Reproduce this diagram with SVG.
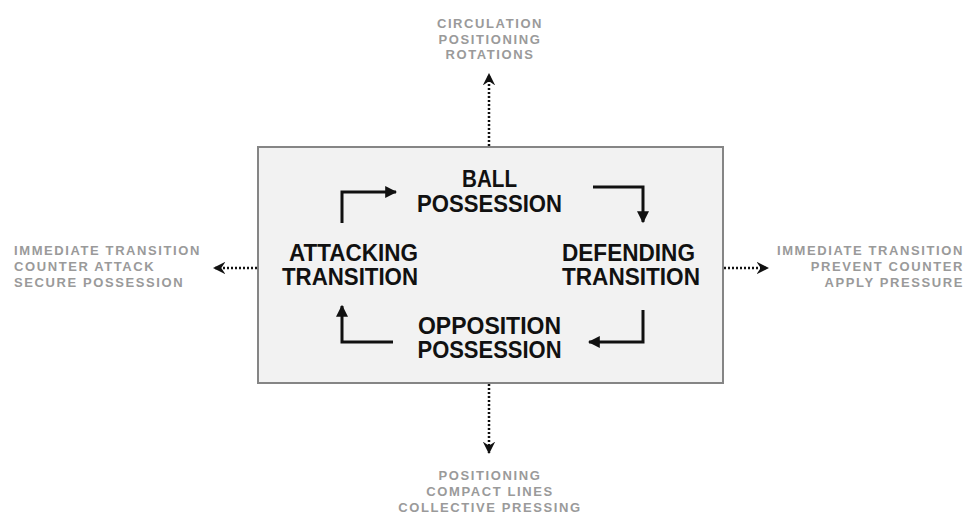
<svg xmlns="http://www.w3.org/2000/svg" width="970" height="516" viewBox="0 0 970 516">
<style>
.main{font-family:"Liberation Sans",Arial,sans-serif;font-weight:bold;font-size:23px;fill:#111}
.side{font-family:"Liberation Sans",Arial,sans-serif;font-weight:bold;font-size:13px;fill:#9a9a9a;letter-spacing:1.6px}
.cyc{fill:none;stroke:#111;stroke-width:3;stroke-linejoin:miter}
.dot{fill:none;stroke:#111;stroke-width:2.5;stroke-dasharray:2 2}
</style>
<defs>
<marker id="ah" viewBox="0 0 10 10" refX="9" refY="5" markerWidth="4" markerHeight="4" orient="auto" markerUnits="strokeWidth">
<path d="M0,0 L10,5 L0,10 z" fill="#111"/>
</marker>
<marker id="dh" viewBox="0 0 12 12" refX="11" refY="6" markerWidth="5" markerHeight="5" orient="auto" markerUnits="strokeWidth">
<path d="M0,0 L12,6 L0,12 L4,6 z" fill="#111"/>
</marker>
</defs>
<g id="center-box">
<rect x="258" y="147" width="465" height="236" fill="#f2f2f2" stroke="#858585" stroke-width="2"/>
</g>
<g id="ball-possession">
<text class="main" x="489.5" y="187" text-anchor="middle" textLength="55" lengthAdjust="spacingAndGlyphs">BALL</text>
<text class="main" x="489.5" y="212" text-anchor="middle" textLength="145" lengthAdjust="spacingAndGlyphs">POSSESSION</text>
</g>
<g id="attacking-transition">
<text class="main" x="418" y="261" text-anchor="end" textLength="129" lengthAdjust="spacingAndGlyphs">ATTACKING</text>
<text class="main" x="418" y="285" text-anchor="end" textLength="136" lengthAdjust="spacingAndGlyphs">TRANSITION</text>
</g>
<g id="defending-transition">
<text class="main" x="562" y="261" textLength="133" lengthAdjust="spacingAndGlyphs">DEFENDING</text>
<text class="main" x="562" y="285" textLength="138" lengthAdjust="spacingAndGlyphs">TRANSITION</text>
</g>
<g id="opposition-possession">
<text class="main" x="489.5" y="334" text-anchor="middle" textLength="143" lengthAdjust="spacingAndGlyphs">OPPOSITION</text>
<text class="main" x="489.5" y="358" text-anchor="middle" textLength="144" lengthAdjust="spacingAndGlyphs">POSSESSION</text>
</g>
<g id="top-notes">
<text class="side" x="490" y="28" text-anchor="middle">CIRCULATION</text>
<text class="side" x="490" y="44" text-anchor="middle">POSITIONING</text>
<text class="side" x="490" y="59" text-anchor="middle">ROTATIONS</text>
</g>
<g id="left-notes">
<text class="side" x="14" y="255">IMMEDIATE TRANSITION</text>
<text class="side" x="14" y="271">COUNTER ATTACK</text>
<text class="side" x="14" y="287">SECURE POSSESSION</text>
</g>
<g id="right-notes">
<text class="side" x="964" y="255" text-anchor="end">IMMEDIATE TRANSITION</text>
<text class="side" x="964" y="271" text-anchor="end">PREVENT COUNTER</text>
<text class="side" x="964" y="287" text-anchor="end">APPLY PRESSURE</text>
</g>
<g id="bottom-notes">
<text class="side" x="490" y="480" text-anchor="middle">POSITIONING</text>
<text class="side" x="490" y="496" text-anchor="middle">COMPACT LINES</text>
<text class="side" x="490" y="512" text-anchor="middle">COLLECTIVE PRESSING</text>
</g>
<g id="connectors">
<path class="cyc" d="M342,223 V192 H396" marker-end="url(#ah)"/>
<path class="cyc" d="M593,187 H643 V222" marker-end="url(#ah)"/>
<path class="cyc" d="M643,310 V342 H589" marker-end="url(#ah)"/>
<path class="cyc" d="M393,342 H342 V306" marker-end="url(#ah)"/>
<path class="dot" d="M489,146 V74" marker-end="url(#dh)"/>
<path class="dot" d="M257,268 H214" marker-end="url(#dh)"/>
<path class="dot" d="M724,268 H768" marker-end="url(#dh)"/>
<path class="dot" d="M489,384 V453" marker-end="url(#dh)"/>
</g>
</svg>
